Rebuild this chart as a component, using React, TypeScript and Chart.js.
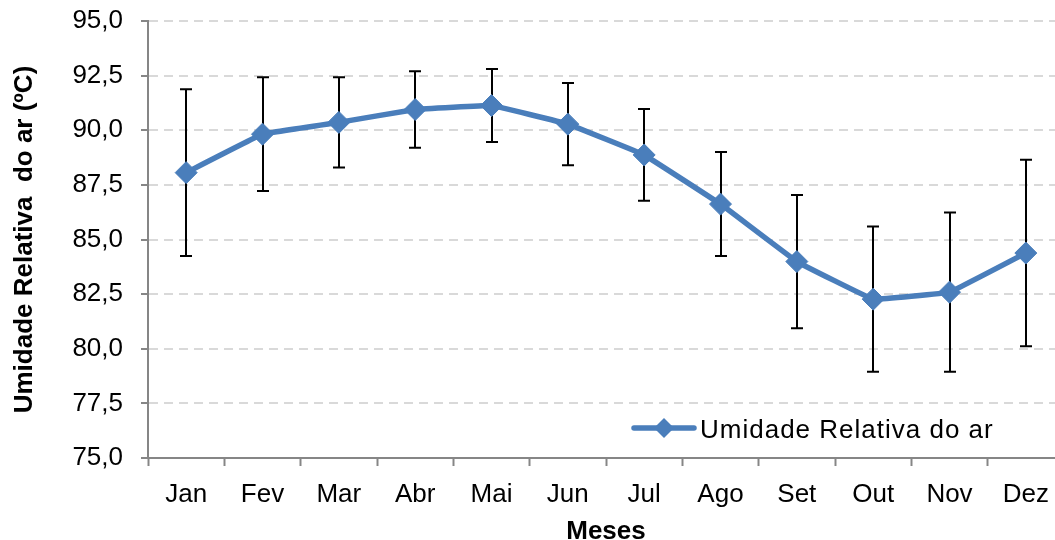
import { useEffect, useRef } from "react";
import { Chart, registerables } from "chart.js";

Chart.register(...registerables);

// Monthly relative humidity (mean) and its standard deviation
const months = ["Jan", "Fev", "Mar", "Abr", "Mai", "Jun", "Jul", "Ago", "Set", "Out", "Nov", "Dez"];
const humidity = [88.06, 89.82, 90.36, 90.95, 91.13, 90.28, 88.87, 86.62, 83.99, 82.27, 82.59, 84.38];
const humidityError = [3.82, 2.6, 2.06, 1.75, 1.67, 1.88, 2.1, 2.38, 3.05, 3.32, 3.64, 4.27];

const seriesLabel = "Umidade Relativa do ar";
const yTitle = "Umidade Relativa  do ar (ºC)";
const xTitle = "Meses";
const yMin = 75;
const yMax = 95;
const yStep = 2.5;

const FONT = "'Liberation Sans', Arial, sans-serif";
const BLUE = "#4a7ebb";
const AXIS = "#868686";
const CHART_W = 1066;
const CHART_H = 540;

const errorBars = {
  id: "errorBars",
  beforeDatasetsDraw(chart: any) {
    const { ctx, scales } = chart;
    const x = scales.x;
    const y = scales.y;
    ctx.save();
    ctx.strokeStyle = "#000";
    ctx.lineWidth = 2;
    humidity.forEach((v, i) => {
      const px = Math.round(x.getPixelForValue(i));
      const top = y.getPixelForValue(v + humidityError[i]);
      const bot = y.getPixelForValue(v - humidityError[i]);
      ctx.beginPath();
      ctx.moveTo(px, top);
      ctx.lineTo(px, bot);
      ctx.moveTo(px - 6, top);
      ctx.lineTo(px + 6, top);
      ctx.moveTo(px - 6, bot);
      ctx.lineTo(px + 6, bot);
      ctx.stroke();
    });
    ctx.restore();
  },
};

// Legend drawn inside the plot, lower right
const innerLegend = {
  id: "innerLegend",
  afterDraw(chart: any) {
    const { ctx, chartArea } = chart;
    const x0 = chartArea.left + 486;
    const yLine = chartArea.bottom - 30;
    ctx.save();
    ctx.strokeStyle = BLUE;
    ctx.lineWidth = 5.5;
    ctx.lineCap = "round";
    ctx.beginPath();
    ctx.moveTo(x0, yLine);
    ctx.lineTo(x0 + 60, yLine);
    ctx.stroke();
    ctx.fillStyle = BLUE;
    const cx = x0 + 30;
    const r = 10;
    ctx.beginPath();
    ctx.moveTo(cx, yLine - r);
    ctx.lineTo(cx + r, yLine);
    ctx.lineTo(cx, yLine + r);
    ctx.lineTo(cx - r, yLine);
    ctx.closePath();
    ctx.fill();
    ctx.fillStyle = "#000";
    ctx.font = `26px ${FONT}`;
    (ctx as any).letterSpacing = "1px";
    ctx.textBaseline = "middle";
    ctx.textAlign = "left";
    ctx.fillText(seriesLabel, x0 + 66, yLine + 3);
    ctx.restore();
  },
};

export default function App() {
  const canvasRef = useRef<HTMLCanvasElement | null>(null);

  useEffect(() => {
    const canvas = canvasRef.current;
    if (!canvas) return;
    const chart = new Chart(canvas, {
      type: "line",
      data: {
        labels: months,
        datasets: [
          {
            label: seriesLabel,
            data: humidity,
            borderColor: BLUE,
            backgroundColor: BLUE,
            borderWidth: 5.5,
            tension: 0.05,
            pointStyle: "rectRot",
            pointRadius: 11,
            pointBackgroundColor: BLUE,
            pointBorderColor: BLUE,
            pointBorderWidth: 1,
          },
        ],
      },
      options: {
        responsive: false,
        animation: false,
        devicePixelRatio: 1,
        layout: { autoPadding: false, padding: { top: 21, right: 2, left: 0, bottom: 0 } },
        plugins: {
          legend: { display: false },
          tooltip: { enabled: false },
        },
        scales: {
          x: {
            type: "category",
            offset: true,
            afterFit: (scale: any) => {
              scale.height = 82;
              scale.paddingLeft = 0;
              scale.paddingRight = 0;
            },
            grid: {
              offset: true,
              drawOnChartArea: false,
              drawTicks: true,
              tickLength: 8,
              tickColor: AXIS,
              tickWidth: 2,
              tickBorderDash: [],
              color: AXIS,
            },
            border: { color: AXIS, width: 2 },
            ticks: {
              color: "#000",
              padding: 13,
              maxRotation: 0,
              autoSkip: false,
              font: { family: FONT, size: 26 },
            },
            title: {
              display: true,
              text: xTitle,
              color: "#000",
              font: { family: FONT, size: 26, weight: "bold", lineHeight: 1 },
              padding: { top: 0, bottom: -5 },
            },
          },
          y: {
            min: yMin,
            max: yMax,
            afterFit: (scale: any) => {
              scale.width = 148;
              scale.paddingTop = 0;
              scale.paddingBottom = 0;
            },
            grid: {
              color: "#d9d9d9",
              lineWidth: 2,
              drawTicks: true,
              tickLength: 7,
              tickColor: AXIS,
              tickWidth: 2,
              tickBorderDash: [],
            },
            border: { color: AXIS, width: 2, dash: [9, 6] },
            ticks: {
              stepSize: yStep,
              color: "#000",
              padding: 18,
              font: { family: FONT, size: 26 },
              callback: (v: any) => Number(v).toFixed(1).replace(".", ","),
            },
            title: {
              display: true,
              text: yTitle,
              color: "#000",
              font: { family: FONT, size: 26, weight: "bold", lineHeight: 1 },
              padding: { top: 12, bottom: 0 },
            },
          },
        },
      },
      plugins: [errorBars, innerLegend],
    });
    return () => chart.destroy();
  }, []);

  return (
    <div style={{ position: "fixed", left: 0, top: 0, width: "100vw", height: "100vh", overflow: "hidden", background: "#fff" }}>
      <div style={{ width: CHART_W, height: CHART_H }}>
        <canvas
          ref={canvasRef}
          width={CHART_W}
          height={CHART_H}
          style={{ display: "block", width: CHART_W, height: CHART_H }}
        />
      </div>
    </div>
  );
}
